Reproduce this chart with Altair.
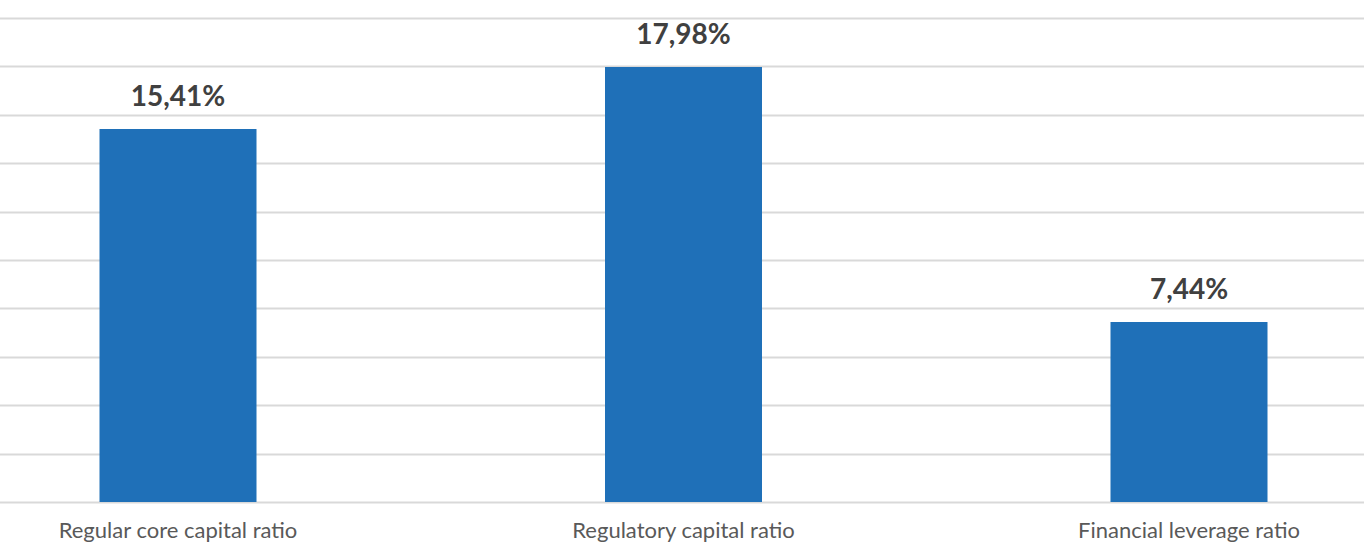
import altair as alt
import pandas as pd

categories = ["Regular core capital ratio", "Regulatory capital ratio", "Financial leverage ratio"]
values = [15.41, 17.98, 7.44]
labels = [f"{v:.2f}".replace(".", ",") + "%" for v in values]

df = pd.DataFrame({"cat": categories, "val": values, "lab": labels})

W = 1355
H = 484
step = 505.5
start = 169 - step / 2

x = alt.X(
    "cat:N",
    sort=categories,
    title=None,
    scale=alt.Scale(range=[start, start + 3 * step], paddingInner=0, paddingOuter=0),
    axis=alt.Axis(
        labelAngle=0,
        labelFont="Lato",
        labelFontSize=22,
        labelColor="#595959",
        labelPadding=18,
        labelLimit=0,
        ticks=False,
        domain=False,
        grid=False,
        labelOverlap=False,
    ),
)
y = alt.Y(
    "val:Q",
    title=None,
    scale=alt.Scale(domain=[0, 20], nice=False),
    axis=alt.Axis(
        values=list(range(0, 21, 2)),
        labels=False,
        ticks=False,
        domain=False,
        domainOpacity=0,
        domainColor="transparent",
        grid=True,
        gridColor="#d9d9d9",
        gridWidth=2,
    ),
)

bars = alt.Chart(df).mark_bar(size=157, color="#1F70B8").encode(x=x, y=y)
text = alt.Chart(df).mark_text(
    font="Lato", fontSize=28, fontWeight="bold", color="#404040",
    baseline="alphabetic", dy=-23,
).encode(x=x, y=y, text="lab:N")

chart = (
    alt.layer(bars, text)
    .properties(
        width=W, height=H,
        autosize=alt.AutoSizeParams(type="none"),
        padding={"left": 9, "top": 18, "right": 0, "bottom": 43},
        view=alt.ViewBackground(stroke="transparent", strokeWidth=0),
    )
    .configure_view(stroke="transparent", strokeWidth=0, strokeOpacity=0)
    .configure_axisX(grid=False, domain=False, ticks=False)
    .configure_axisY(domain=False, ticks=False)
    .configure(background="white")
)

chart.save("out.html", embed_options={"renderer": "svg", "actions": False})
